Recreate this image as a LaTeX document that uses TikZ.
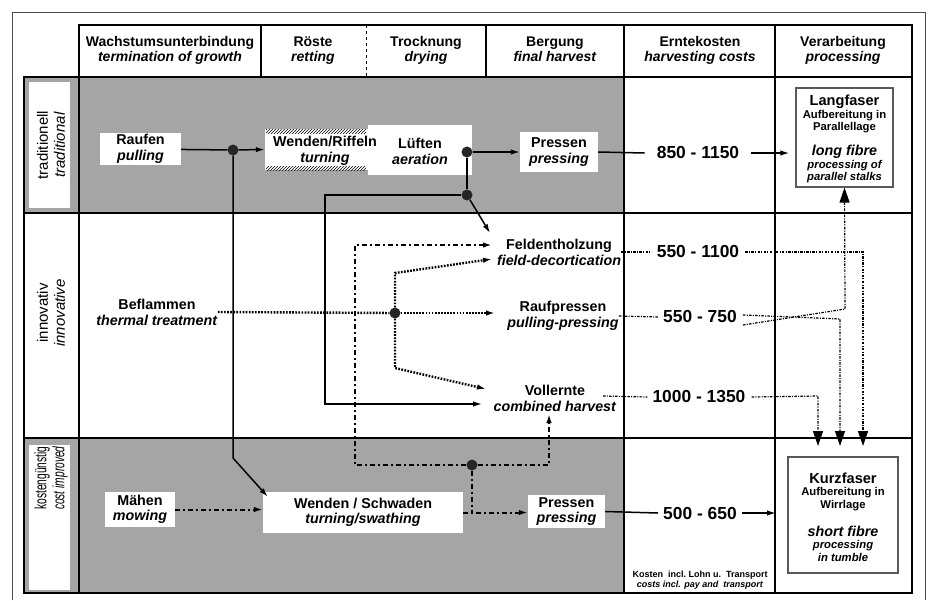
\documentclass[tikz,border=0pt]{standalone}
\usepackage{fontspec}
\setmainfont{Liberation Sans}
\newfontfamily\narrowfont[FakeStretch=0.62]{Liberation Sans}
\usetikzlibrary{arrows.meta,patterns}
\definecolor{bggray}{RGB}{165,165,165}
\newcommand{\myfs}[2]{\fontsize{#1}{#2}\selectfont\bfseries}
\newcommand{\topst}{\rule{0pt}{11pt}}
\newcommand{\botst}{\rule[-3.5pt]{0pt}{3.5pt}}
\begin{document}
\begin{tikzpicture}[x=1pt,y=-1pt,
  tline/.style={line width=1.2pt},
  hdr/.style={align=center, inner sep=0pt, font=\myfs{14}{15}},
  box/.style={fill=white, inner sep=0pt, align=center, font=\myfs{14.3}{15.5}},
  txt/.style={align=center, inner sep=0pt, font=\myfs{14.3}{16}},
  side/.style={rotate=90, align=center, inner sep=0pt, font=\fontsize{15}{17}\selectfont},
  cost/.style={inner sep=0pt, font=\myfs{17.4}{18}},
  solidln/.style={line width=1.5pt},
  dotln/.style={line width=2.4pt, dash pattern=on 1.7pt off 1.4pt},
  ddln/.style={line width=2pt, dash pattern=on 5pt off 3pt on 2pt off 3pt},
  costln/.style={line width=1.2pt, dash pattern=on 2.5pt off 1.3pt on 1pt off 1.3pt},
  jdot/.style={circle, fill=black!85, inner sep=0pt, minimum size=11pt},
  arr/.style={-{Latex[length=9pt,width=5.5pt]}},
  bigarr/.style={-{Triangle[length=15pt,width=10pt]}},
  fibre/.style={draw=black!65, line width=1.2pt, fill=white, inner sep=0pt}
]
\useasboundingbox (0,0) rectangle (933,600);
% backgrounds
\fill[bggray] (24,77) rectangle (624,213);
\fill[bggray] (24,438) rectangle (624,593);
\fill[white] (29,82) rectangle (70,208);
\fill[white] (29,445) rectangle (70,590);
% frame and table
\draw[line width=1pt, black!70] (12,600) -- (12,12) -- (925,12) -- (925,600);
\draw[tline] (79,25) rectangle (912,77);
\draw[tline] (24,77) rectangle (912,593);
\draw[tline] (79,77) -- (79,593);
\draw[tline] (24,213) -- (912,213);
\draw[tline] (24,438) -- (912,438);
\draw[tline] (261,25) -- (261,77);
\draw[tline] (486,25) -- (486,77);
\draw[tline] (624,25) -- (624,593);
\draw[tline] (775,25) -- (775,593);
\draw[line width=1pt, dashed] (366,25) -- (366,77);
% headers
\node[hdr] (h1) at (170,50.5) {\topst Wachstumsunterbindung\\\textit{termination of growth}\botst};
\node[hdr] (h2) at (313,50.5) {\topst Röste\\\textit{retting}\botst};
\node[hdr] (h3) at (426,50.5) {\topst Trocknung\\\textit{drying}\botst};
\node[hdr] (h4) at (555,50.5) {\topst Bergung\\\textit{final harvest}\botst};
\node[hdr] (h5) at (700,50.5) {\topst Erntekosten\\\textit{harvesting costs}\botst};
\node[hdr] (h6) at (843,50.5) {\topst Verarbeitung\\\textit{processing}\botst};
% side labels
\node[side] (s1) at (51,145) {traditionell\\\textit{traditional}};
\node[side] (s2) at (51,313) {innovativ\\\textit{innovative}};
\node[side, font=\narrowfont\fontsize{16.5}{18}\selectfont] (s3) at (51,478) {kostengünstig\\\textit{cost improved}};
% traditional row
\node[box, minimum width=81pt, minimum height=32pt] (raufen) at (140.5,149) {Raufen\\\textit{pulling}};
\node[box, minimum width=104pt, minimum height=50pt] (lueften) at (420,150) {};
\node[box, minimum width=103pt, minimum height=41pt] (wenden) at (316.5,149.5) {};
\fill[pattern=north east lines] (266,129) rectangle (366,133);
\fill[pattern=north east lines] (266,166) rectangle (366,170);
\node[txt] (wendent) at (325,151) {Wenden/Riffeln\\\textit{turning}};
\node[txt] (lueftent) at (420,151) {Lüften\\\textit{aeration}};
\node[box, minimum width=78pt, minimum height=40pt] (pressT) at (559,152) {Pressen\\\textit{pressing}};
\node[jdot] (d1) at (233,150) {};
\node[jdot] (d2) at (467,152) {};
\node[jdot] (d3) at (467,195) {};
% innovative row
\node[txt] (befl) at (157,312) {Beflammen\\\textit{thermal treatment}};
\node[txt] (feld) at (559,252) {Feldentholzung\\\textit{field-decortication}};
\node[txt] (rauf) at (563,316) {Raufpressen\\\textit{pulling-pressing}};
\node[txt] (voll) at (555,398) {Vollernte\\\textit{combined harvest}};
\node[jdot] (d5) at (395,313) {};
% cost row
\node[box, minimum width=70pt, minimum height=35pt] (maehen) at (140,509.5) {Mähen\\\textit{mowing}};
\node[box, minimum width=200pt, minimum height=41pt] (wendenS) at (363,512.5) {Wenden / Schwaden\\\textit{turning/swathing}};
\node[box, minimum width=77pt, minimum height=33pt] (pressC) at (566.5,511.5) {Pressen\\\textit{pressing}};
\node[jdot] (d4) at (472,465) {};
% costs
\node[cost] (c0) at (698,153) {850 - 1150};
\node[cost] (c1) at (698,252) {550 - 1100};
\node[cost] (c2) at (700,317) {550 - 750};
\node[cost] (c3) at (699,397) {1000 - 1350};
\node[cost] (c4) at (700,513) {500 - 650};
\node[align=center, inner sep=0pt, font=\myfs{9}{10.5}] (note) at (700,580) {Kosten\ \ incl.\ Lohn u.\ \ Transport\\\textit{costs incl. pay and\ \ transport}};
% processing boxes
\node[fibre, minimum width=97pt, minimum height=99pt] (lang) at (844.5,137.5) {};
\node[align=center, inner sep=0pt, font=\myfs{11.3}{12.5}] (langt) at (844.5,139) {{\fontsize{14.6}{15}\selectfont Langfaser}\\Aufbereitung in\\Parallellage\\[11pt]{\fontsize{14.3}{15}\selectfont\itshape long fibre}\\\itshape processing of\\\itshape parallel stalks};
\node[fibre, minimum width=110pt, minimum height=116pt] (kurz) at (843,515) {};
\node[align=center, inner sep=0pt, font=\myfs{11.3}{12.5}] (kurzt) at (843,517) {{\fontsize{14.6}{15}\selectfont Kurzfaser}\\Aufbereitung in\\Wirrlage\\[14pt]{\fontsize{14.3}{15}\selectfont\itshape short fibre}\\\itshape processing\\\itshape in tumble};
% traditional connectors
\draw[solidln] (raufen) -- (d1);
\draw[solidln, arr] (d1) -- (wenden.west);
\draw[solidln, arr] (d2) -- (pressT.west);
\draw[solidln] (d2) -- (d3);
\draw[solidln, arr] (d3) -- (325,195) -- (325,404) -- (482,404);
\draw[solidln, arr] (d3) -- (490,233);
\draw[solidln, arr] (d1) -- (233,458) -- ([shift={(5,5)}]wendenS.north west);
\draw[solidln] (pressT.east) -- ([xshift=-12pt]c0.west);
\draw[solidln, arr] ([xshift=12pt]c0.east) -- ([xshift=-6pt]lang.west |- c0);
\draw[solidln] (pressC.east) -- ([xshift=-5pt]c4.west);
\draw[solidln, arr] ([xshift=5pt]c4.east) -- (776,513);
% innovative dotted connectors
\draw[dotln] (befl.east) -- (d5);
\draw[dotln, arr] (d5) -- (495,313);
\draw[dotln, arr] (d5) -- (395,273) -- (492,259);
\draw[dotln, arr] (d5) -- (395,368) -- (486,389);
% cost improved dash-dot connectors
\draw[ddln, arr] (maehen.east) -- (wendenS.west |- maehen.east);
\draw[ddln, arr] (wendenS.east) -- (pressC.west |- wendenS.east);
\draw[ddln] (d4) -- (472,512);
\draw[ddln, arr] (d4) -- (355,465) -- (355,245) -- (492,245);
\draw[ddln, arr] (d4) -- (549,465) -- (549,414);
% cost to processing connectors
\draw[costln] (feld.east) -- ([xshift=-5pt]c1.west);
\draw[costln] (rauf.east) -- ([xshift=-5pt]c2.west);
\draw[costln] (603,396) -- ([xshift=-5pt]c3.west);
\draw[costln, bigarr] ([xshift=6pt]c1.east) -- (863,252) -- (863,446);
\draw[costln, bigarr] ([xshift=6pt,yshift=-8pt]c2.east) -- (845,309) -- (lang.south);
\draw[costln, bigarr] ([xshift=6pt,yshift=2pt]c2.east) -- (840,319) -- (840,446);
\draw[costln, bigarr] ([xshift=6pt]c3.east) -- (818,396) -- (818,446);
\end{tikzpicture}
\end{document}
